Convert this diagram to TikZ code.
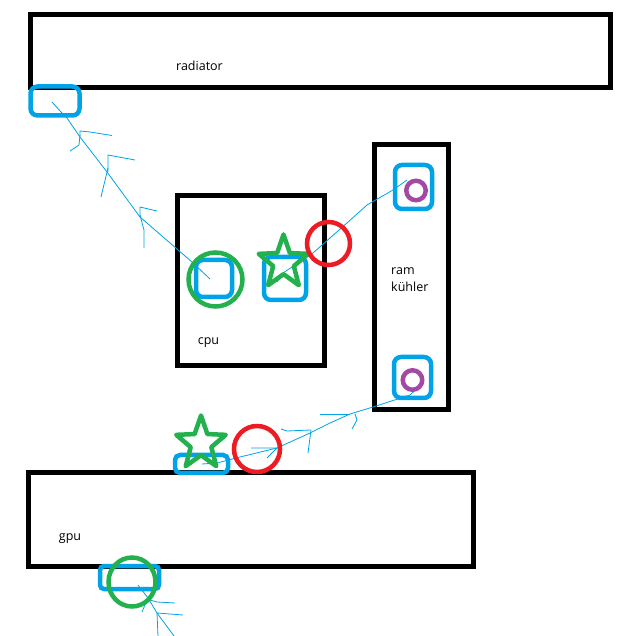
\documentclass[tikz,border=0pt]{standalone}
\usepackage{fontspec}
\setmainfont{Open Sans}
\usepackage{xcolor}
\usetikzlibrary{shapes.geometric}
\definecolor{pblue}{HTML}{00A2E8}
\definecolor{pgreen}{HTML}{22B14C}
\definecolor{pred}{HTML}{ED1C24}
\definecolor{ppurple}{HTML}{A349A4}
\tikzset{
  part/.style={draw=black,line width=5pt,inner sep=0pt,outer sep=0pt},
  port/.style={draw=pblue,line width=4.5pt,rounded corners=7pt,inner sep=0pt,outer sep=0pt},
  hose/.style={draw=pblue,line width=0.8pt},
  ring/.style={draw=#1,line width=4.5pt,circle,inner sep=0pt,outer sep=0pt},
  mark star/.style={draw=pgreen,line width=4.5pt,star,star points=5,star point ratio=2.4,
    minimum size=56pt,inner sep=0pt,outer sep=0pt,line join=round,xscale=.93,transform shape},
  lbl/.style={inner sep=0pt,text=black}
}
\begin{document}
\begin{tikzpicture}[x=1pt,y=-1pt,font=\fontsize{12.5pt}{17pt}\selectfont]
  \useasboundingbox (0,0) rectangle (638,636);
  % boxes
  \node[part,minimum width=579.5pt,minimum height=73pt] (radiator) at (320.25,51) {};
  \node[part,minimum width=147pt,minimum height=170pt] (cpu) at (251,280.5) {};
  \node[part,minimum width=74pt,minimum height=265pt] (ram) at (411.5,277) {};
  \node[part,minimum width=444.5pt,minimum height=94pt] (gpu) at (250.75,519.5) {};
  % labels
  \node[lbl] (radiatorlabel) at (199.5,66) {radiator};
  \node[lbl] (cpulabel) at (208.5,343) {cpu};
  \node[lbl,align=left,anchor=west] (ramlabel) at (391,279.5) {ram\\kühler};
  \node[lbl] (gpulabel) at (70,539) {gpu};
  % fittings
  \node[port,minimum width=49pt,minimum height=29pt] (radport) at (55,101) {};
  \node[port,minimum width=36pt,minimum height=37pt] (cpuin) at (214,278.5) {};
  \node[port,minimum width=42pt,minimum height=43pt] (cpuout) at (285,278.5) {};
  \node[port,minimum width=37pt,minimum height=44pt] (ramtop) at (413.5,187) {};
  \node[port,minimum width=37pt,minimum height=41pt] (rambot) at (412.5,377.5) {};
  \node[port,minimum width=53pt,minimum height=18pt,rounded corners=5pt] (gputop) at (201.5,464) {};
  \node[port,minimum width=59pt,minimum height=23pt,rounded corners=4pt] (gpubot) at (129.5,577.5) {};
  % hose ends
  \coordinate (radend) at (52,102);
  \coordinate (cpuinend) at (210,279);
  \coordinate (cpuoutend) at (277,282);
  \coordinate (ramtopend) at (407,180);
  \coordinate (rambotend) at (424,382);
  \coordinate (gputopend) at (202,464);
  \coordinate (gpubotend) at (138,585);
  \coordinate (loose) at (174,636);
  % hoses
  \draw[hose] (cpuinend) -- (192,262) -- (140,217) -- (107,172) -- (80,137) -- (67,118) -- (61,112) -- (radend);
  \draw[hose] (80,136) -- (80,131) -- (90,132) -- (112,135.5);
  \draw[hose] (80,135) -- (79,145) -- (70,151);
  \draw[hose] (108,172) -- (108,155) -- (135,160);
  \draw[hose] (108,168) -- (101,197);
  \draw[hose] (140,217) -- (140,207) -- (157,211);
  \draw[hose] (140,215) -- (144,230) -- (144,248);
  \draw[hose] (cpuoutend) -- (283,273) -- (313,253) -- (347,223) -- (367,205) -- (393,190) -- (ramtopend);
  \draw[hose] (rambotend) -- (410,395) -- (373,407) -- (350,414) -- (330,423) -- (310,433) -- (277,448) -- (240,457) -- (217,463) -- (gputopend);
  \draw[hose] (320,414) -- (350,414);
  \draw[hose] (355,414) -- (357,420) -- (352,429);
  \draw[hose] (281,429) -- (287,431) -- (311,430);
  \draw[hose] (311,430) -- (308,453);
  \draw[hose] (251,448) -- (277,448) -- (267,458);
  \draw[hose] (gpubotend) -- (148,598) -- (157,613) -- (loose);
  \draw[hose] (150,600) -- (157,602) -- (175,603);
  \draw[hose] (147,600) -- (142,612);
  \draw[hose] (183,615) -- (157,613) -- (158,636);
  % markers
  \node[ring=pgreen,minimum size=54pt] (cpuring) at (215.5,279.5) {};
  \node[ring=pgreen,minimum width=47pt,minimum height=49pt,ellipse] (gpuring) at (132,582) {};
  \node[mark star] (cpustar) at (283.5,262.5) {};
  \node[mark star] (gpustar) at (201,443.5) {};
  \node[ring=pred,minimum size=43pt] (cpuleak) at (328.5,243.5) {};
  \node[ring=pred,minimum size=46pt] (gpuleak) at (257,449) {};
  \node[ring=ppurple,minimum size=19.5pt] (ramtopring) at (416,190.5) {};
  \node[ring=ppurple,minimum size=19.5pt] (rambotring) at (412.5,380) {};
\end{tikzpicture}
\end{document}
